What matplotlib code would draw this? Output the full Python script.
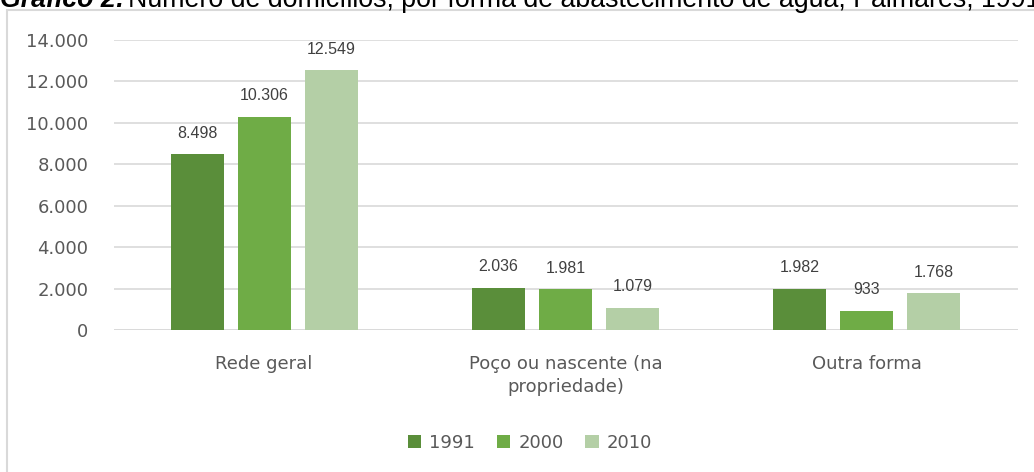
import numpy as np
from matplotlib import pyplot as plt
from matplotlib.patches import Rectangle

categorias = ['Rede geral', 'Poço ou nascente (na\npropriedade)', 'Outra forma']
anos = ['1991', '2000', '2010']
v1991 = [8498, 2036, 1982]
v2000 = [10306, 1981, 933]
v2010 = [12549, 1079, 1768]
cores = ['#5A8E3A', '#6FAC46', '#B4CFA6']

def fmt(v):
    return f'{v:,}'.replace(',', '.')

W, H = 1034, 472
fig = plt.figure(figsize=(W / 100, H / 100), dpi=100)
plt.rcParams['font.family'] = ['DejaVu Sans']

# moldura do grafico
fig.patches.append(Rectangle((7 / W, -0.1), 1.2, (H - 10) / H + 0.1,
                             transform=fig.transFigure, fill=False,
                             edgecolor='#D9D9D9', linewidth=1.5))

# titulo (cortado no topo, como na imagem)
yb = 1 - 7 / H
t1 = fig.text(0.0, yb, 'Gráfico 2:', fontsize=19.3, fontweight='bold',
              fontstyle='italic', family='Liberation Sans', va='baseline')
fig.canvas.draw()
bb = t1.get_window_extent()
fig.text(bb.x1 / W + 0.003, yb,
         'Número de domicílios, por forma de abastecimento de água, Palmares, 1991-2010',
         fontsize=19.3, family='Liberation Sans', va='baseline')

ax = fig.add_axes([113.5 / W, (H - 330) / H, (1017.5 - 113.5) / W, 290 / H])
x = np.arange(len(categorias))
w = 0.176
passo = 0.222
for i, (serie, ano) in enumerate(zip([v1991, v2000, v2010], anos)):
    pos = x + (i - 1) * passo
    ax.bar(pos, serie, width=w, color=cores[i], label=ano, zorder=3)
    for p, v in zip(pos, serie):
        ax.text(p, v + 650, fmt(v), ha='center', va='bottom', fontsize=11.5,
                color='#404040', family='Liberation Sans')

ax.set_xlim(-0.5, 2.5)
ax.set_ylim(0, 14000)
ax.set_yticks(range(0, 14001, 2000))
ax.set_yticklabels([fmt(v) for v in range(0, 14001, 2000)], fontsize=13, color='#595959')
ax.set_xticks(x)
ax.set_xticklabels(categorias, fontsize=13, color='#595959', linespacing=1.35)
ax.tick_params(axis='both', length=0)
ax.tick_params(axis='y', pad=18)
ax.tick_params(axis='x', pad=18)
ax.grid(axis='y', color='#D9D9D9', linewidth=1.2, zorder=0)
for s in ax.spines.values():
    s.set_visible(False)
ax.axhline(0, color='#D9D9D9', linewidth=1.2, zorder=1)

fig.legend(*ax.get_legend_handles_labels(), loc='center',
           bbox_to_anchor=(530 / W, 1 - 443 / H),
           ncol=3, frameon=False, fontsize=13, handlelength=0.75, handleheight=0.75,
           columnspacing=1.2, handletextpad=0.45, labelcolor='#595959')

fig.savefig('out.png', dpi=100)
